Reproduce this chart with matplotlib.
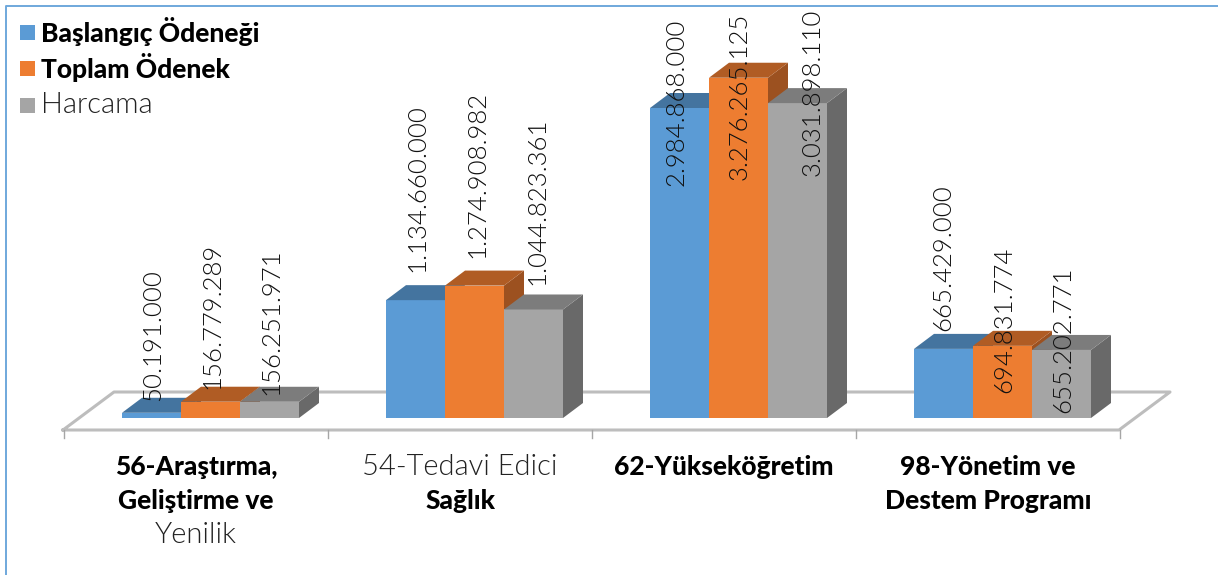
import matplotlib
matplotlib.use("Agg")
import matplotlib.pyplot as plt
from matplotlib.patches import Polygon
from matplotlib.lines import Line2D

plt.rcParams['font.family'] = ['Lato', 'DejaVu Sans']

series_names = ['Başlangıç Ödeneği', 'Toplam Ödenek', 'Harcama']
baslangic = [50191000, 1134660000, 2984868000, 665429000]
toplam = [156779289, 1274908982, 3276265125, 694831774]
harcama = [156251971, 1044823361, 3031898110, 655202771]
series = [baslangic, toplam, harcama]

front = ['#5b9bd5', '#ed7d31', '#a5a5a5']
top = ['#44749f', '#b05c24', '#7c7c7c']
side = ['#3e6a92', '#9c5120', '#696969']

W, H = 1218, 575
px_per_group = 264.0
px_per_val = 310.0 / 2984868000
base_px = 418
first_px = 210.5
bar_w = 59 / px_per_group
dx = 20 / px_per_group
dy = 15 / px_per_val


def X(px):
    return (px - first_px) / px_per_group


def Y(py):
    return (base_px - py) / px_per_val


fig = plt.figure(figsize=(W / 100, H / 100), dpi=100)
ax = fig.add_axes([0, 0, 1, 1])
ax.set_xlim(X(0), X(W))
ax.set_ylim(Y(H), Y(0))
ax.axis('off')

# frame
fig.add_artist(Line2D([5.5 / W, 5.5 / W, 1], [0, 1 - 6 / H, 1 - 6 / H], color='#6fa8dc', lw=1.4))

# floor
floor_c = '#bdbdbd'
ax.plot([X(63), X(1119), X(1170), X(1170 - 1056), X(63)],
        [Y(430), Y(430), Y(392), Y(392), Y(430)], color=floor_c, lw=2.2, zorder=1)
for k in range(5):
    x = X(64) + k
    ax.plot([x, x], [Y(430), Y(438)], color='#a6a6a6', lw=1, zorder=1)

for i in range(4):
    for s in range(3):
        v = series[s][i]
        x0 = i + (s - 1.5) * bar_w
        ax.bar(x0, v, width=bar_w, align='edge', color=front[s], zorder=5 + s * 2)
        ax.add_patch(Polygon([(x0, v), (x0 + bar_w, v), (x0 + bar_w + dx, v + dy), (x0 + dx, v + dy)],
                             closed=True, color=top[s], zorder=5 + s * 2, lw=0))
        ax.add_patch(Polygon([(x0 + bar_w, 0), (x0 + bar_w + dx, dy), (x0 + bar_w + dx, v + dy), (x0 + bar_w, v)],
                             closed=True, color=side[s], zorder=4 + s * 2, lw=0))

# data labels
def tr(v):
    return f'{v:,}'.replace(',', '.')


label_mid = [[335, 316, 322], [188, 174, 201], [102, 96, 92], [258, 320, 340]]
label_x = [[153, 212, 271], [417, 477, 537], [677, 740, 813], [943, 1004, 1063]]
for i in range(4):
    for s in range(3):
        ax.text(X(label_x[i][s]), Y(label_mid[i][s]), tr(series[s][i]), rotation=90,
                ha='center', va='center', fontsize=18.5, fontweight=300, color='#111111', zorder=20)

# category labels: line text, bold flag
cat_lines = [
    [('56-Araştırma,', True), ('Geliştirme ve', True), ('Yenilik', False)],
    [('54-Tedavi Edici', False), ('Sağlık', True)],
    [('62-Yükseköğretim', True)],
    [('98-Yönetim ve', True), ('Destem Programı', True)],
]
cat_x = [196, 460, 724, 988]
for i, lines in enumerate(cat_lines):
    for j, (t, b) in enumerate(lines):
        ax.text(X(cat_x[i]), Y(467 + j * 34), t, ha='center', va='center',
                fontsize=19 if b else 21, fontweight=900 if b else 300, color='black' if b else '#222222')

# legend
leg_y = [32, 68, 105]
for s, name in enumerate(series_names):
    ax.add_patch(Polygon([(X(20), Y(leg_y[s] - 7)), (X(35), Y(leg_y[s] - 7)),
                          (X(35), Y(leg_y[s] + 8)), (X(20), Y(leg_y[s] + 8))],
                         closed=True, color=front[s], lw=0))
    ax.text(X(41), Y(leg_y[s]), name, ha='left', va='center',
            fontsize=19 if s < 2 else 21, fontweight=900 if s < 2 else 300,
            color='black' if s < 2 else '#222222')

fig.savefig('out.png', dpi=100)
